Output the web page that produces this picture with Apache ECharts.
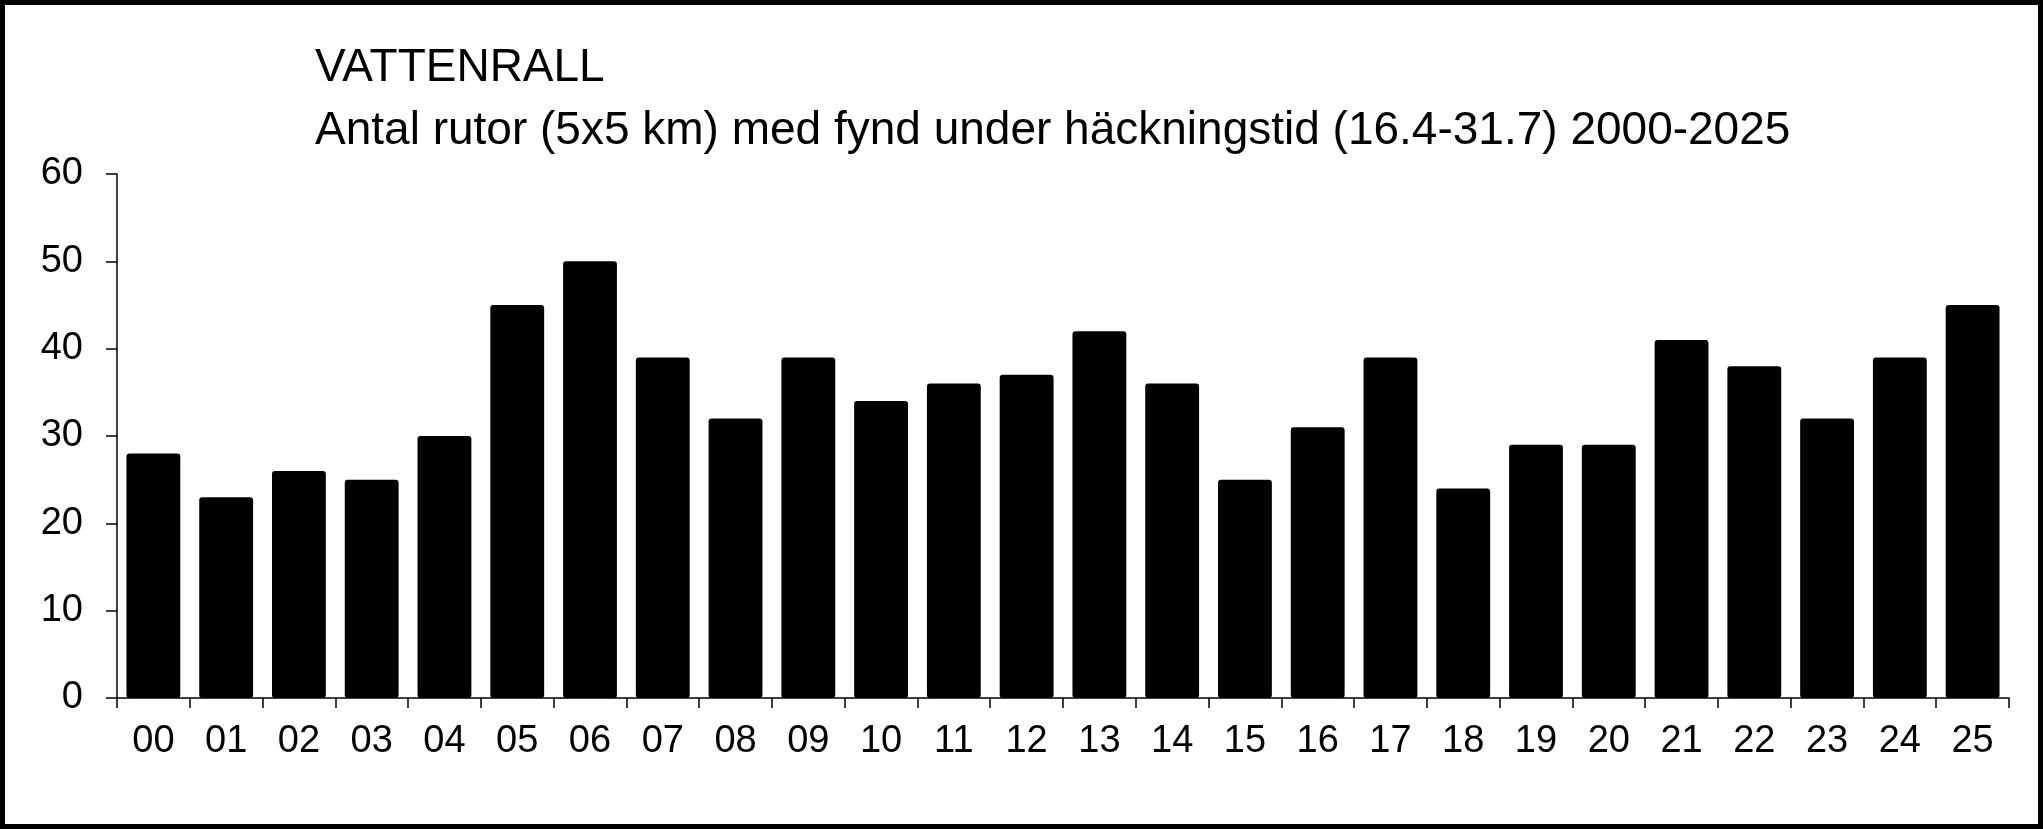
<!DOCTYPE html>
<html>
<head>
<meta charset="utf-8">
<script src="https://cdn.jsdelivr.net/npm/echarts@6/dist/echarts.min.js"></script>
<style>
html,body{margin:0;padding:0;background:#fff;}
#chart{width:2043px;height:829px;}
</style>
</head>
<body>
<div id="chart"></div>
<script>
const titleLine1 = 'VATTENRALL';
const titleLine2 = 'Antal rutor (5x5 km) med fynd under häckningstid (16.4-31.7) 2000-2025';
const categories = ['00','01','02','03','04','05','06','07','08','09','10','11','12','13','14','15','16','17','18','19','20','21','22','23','24','25'];
const values = [28,23,26,25,30,45,50,39,32,39,34,36,37,42,36,25,31,39,24,29,29,41,38,32,39,45];
const yTicks = {min: 0, max: 60, interval: 10};

const FONT = '"Liberation Sans", Arial, sans-serif';
const chart = echarts.init(document.getElementById('chart'), null, {renderer: 'canvas'});
chart.setOption({
  animation: false,
  backgroundColor: '#fff',
  grid: {left: 117, right: 34, top: 174, bottom: 131, containLabel: false},
  graphic: [
    {type: 'rect', shape: {x: 2.5, y: 2.5, width: 2038, height: 824}, style: {fill: 'none', stroke: '#000', lineWidth: 5}, silent: true},
    {type: 'text', left: 315, top: 45, style: {text: titleLine1, font: '46px ' + FONT, fill: '#000'}},
    {type: 'text', left: 315, top: 108, style: {text: titleLine2, font: '46px ' + FONT, fill: '#000'}}
  ],
  xAxis: {
    type: 'category',
    data: categories,
    axisLine: {lineStyle: {color: '#000', width: 1.5}},
    axisTick: {show: true, inside: false, length: 10, lineStyle: {color: '#000', width: 1.5}},
    axisLabel: {color: '#000', fontSize: 38, fontFamily: FONT, margin: 25, interval: 0}
  },
  yAxis: {
    type: 'value',
    min: yTicks.min, max: yTicks.max, interval: yTicks.interval,
    splitLine: {show: false},
    axisLine: {show: true, lineStyle: {color: '#000', width: 1.5}},
    axisTick: {show: true, length: 11, lineStyle: {color: '#000', width: 1.5}},
    axisLabel: {color: '#000', fontSize: 38, fontFamily: FONT, margin: 34}
  },
  series: [{
    type: 'bar',
    data: values,
    barCategoryGap: '26%',
    itemStyle: {color: '#000', borderRadius: 3}
  }]
});
</script>
</body>
</html>
